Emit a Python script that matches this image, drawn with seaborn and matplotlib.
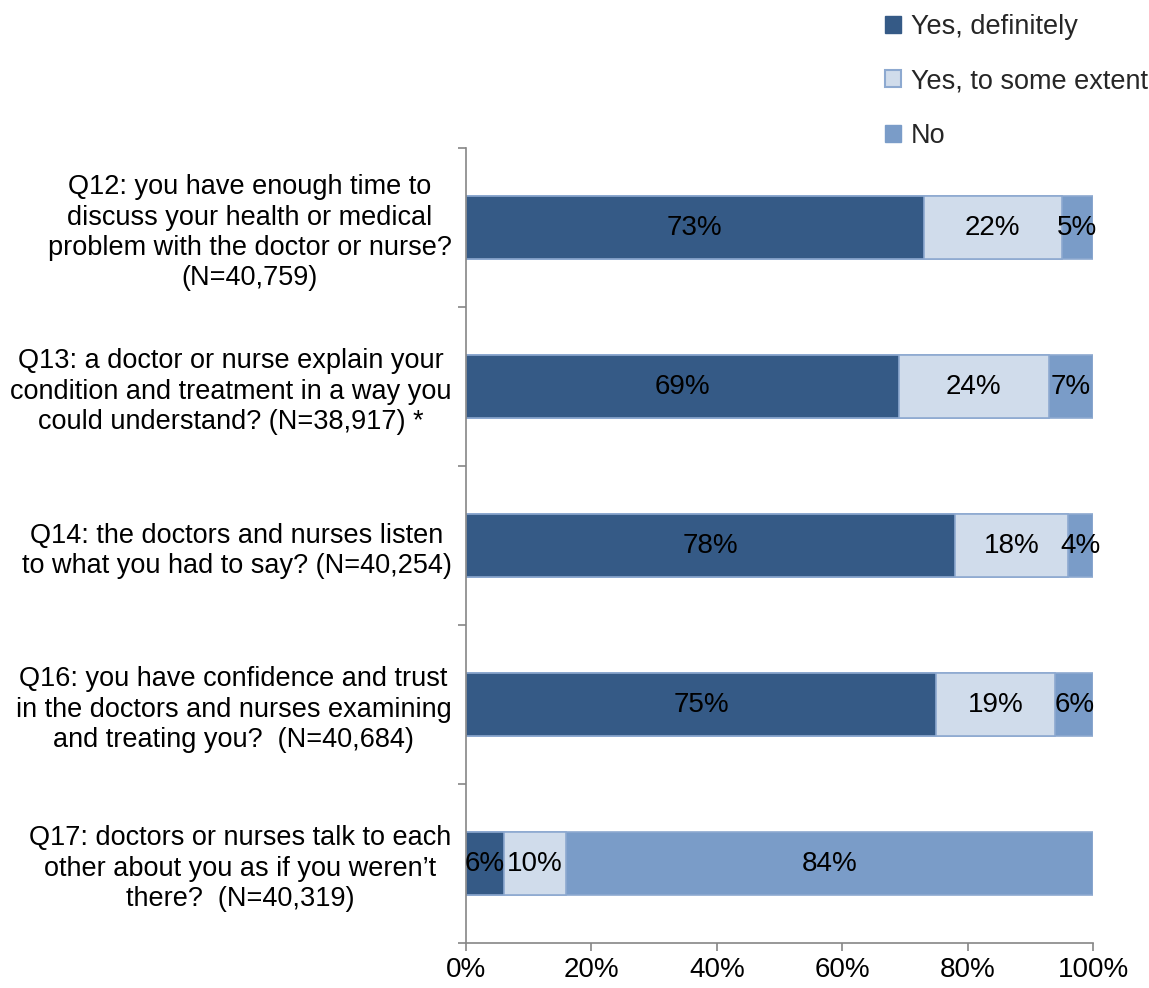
import matplotlib
matplotlib.use("Agg")
import matplotlib.pyplot as plt
from matplotlib.patches import Patch
from matplotlib.ticker import FuncFormatter, FixedLocator
import seaborn as sns
import pandas as pd

# Survey questions (top to bottom) and response shares in percent
questions = [
    "Q12: you have enough time to\ndiscuss your health or medical\nproblem with the doctor or nurse?\n(N=40,759)",
    "Q13: a doctor or nurse explain your\ncondition and treatment in a way you\ncould understand? (N=38,917) *",
    "Q14: the doctors and nurses listen\nto what you had to say? (N=40,254)",
    "Q16: you have confidence and trust\nin the doctors and nurses examining\nand treating you?  (N=40,684)",
    "Q17: doctors or nurses talk to each\nother about you as if you weren\u2019t\nthere?  (N=40,319)",
]
series = ["Yes, definitely", "Yes, to some extent", "No"]
yes_definitely = [73, 69, 78, 75, 6]
yes_some_extent = [22, 24, 18, 19, 10]
no = [5, 7, 4, 6, 84]
x_ticks = [0, 20, 40, 60, 80, 100]

colors = ["#355A86", "#D0DCEB", "#7A9CC8"]
edge = "#8DA9D0"

sns.set_theme(style="white")
plt.rcParams["font.family"] = ["Liberation Sans", "DejaVu Sans"]
FS = 19.5

df = pd.DataFrame({
    "question": questions,
    "def": yes_definitely,
    "some": yes_some_extent,
    "no": no,
})
df["cum_def"] = df["def"]
df["cum_some"] = df["def"] + df["some"]
df["cum_no"] = df["def"] + df["some"] + df["no"]

fig = plt.figure(figsize=(11.49, 9.88), dpi=100)
ax = fig.add_axes([0.4056, 0.0455, 0.5457, 0.8047])

# Stacked bars: draw cumulative totals from the back to the front
for col, c in [("cum_no", colors[2]), ("cum_some", colors[1]), ("cum_def", colors[0])]:
    sns.barplot(data=df, x=col, y="question", orient="h", color=c,
                width=0.4, edgecolor=edge, linewidth=1.2, saturation=1,
                errorbar=None, ax=ax)

# Segment value labels
for i, row in df.iterrows():
    starts = [0, row["def"], row["def"] + row["some"]]
    vals = [row["def"], row["some"], row["no"]]
    for s, v in zip(starts, vals):
        ax.text(s + v / 2, i, f"{v}%", ha="center", va="center",
                fontsize=FS + 0.5, color="black")

ax.set_xlim(0, 100)
ax.set_ylim(len(questions) - 0.5, -0.5)
ax.xaxis.set_major_locator(FixedLocator(x_ticks))
ax.xaxis.set_major_formatter(FuncFormatter(lambda v, p: f"{int(v)}%"))
ax.set_xlabel("")
ax.set_ylabel("")

# Category boundaries carry tick marks, labels sit at bar centres
ax.yaxis.set_major_locator(FixedLocator([i - 0.5 for i in range(len(questions) + 1)]))
ax.yaxis.set_major_formatter(FuncFormatter(lambda v, p: ""))
ax.yaxis.set_minor_locator(FixedLocator(list(range(len(questions)))))
ax.set_yticklabels(questions, minor=True)
for lab in ax.get_yticklabels(minor=True):
    lab.set_multialignment("center")
    lab.set_linespacing(1.21)
ax.tick_params(axis="y", which="minor", length=0, pad=10.5, labelsize=FS, labelcolor="black")
ax.tick_params(axis="y", which="major", length=6, width=1.2, color="#868686", left=True, direction="out")
ax.tick_params(axis="x", which="major", length=6, width=1.2, color="#868686", bottom=True,
               direction="out", labelsize=FS + 0.5, labelcolor="black", pad=4)

for side in ["top", "right"]:
    ax.spines[side].set_visible(False)
for side in ["left", "bottom"]:
    ax.spines[side].set_color("#868686")
    ax.spines[side].set_linewidth(1.2)

handles = [
    Patch(facecolor=colors[0], edgecolor=colors[0]),
    Patch(facecolor=colors[1], edgecolor=edge, linewidth=1.5),
    Patch(facecolor=colors[2], edgecolor=colors[2]),
]
fig.legend(handles, series, loc="upper left", bbox_to_anchor=(885 / 1149, 1 - 14 / 988),
           frameon=False, fontsize=FS, handlelength=0.6, handleheight=0.6,
           handletextpad=0.35, labelspacing=1.05, borderaxespad=0, borderpad=0)

fig.savefig("out.png", dpi=100)
